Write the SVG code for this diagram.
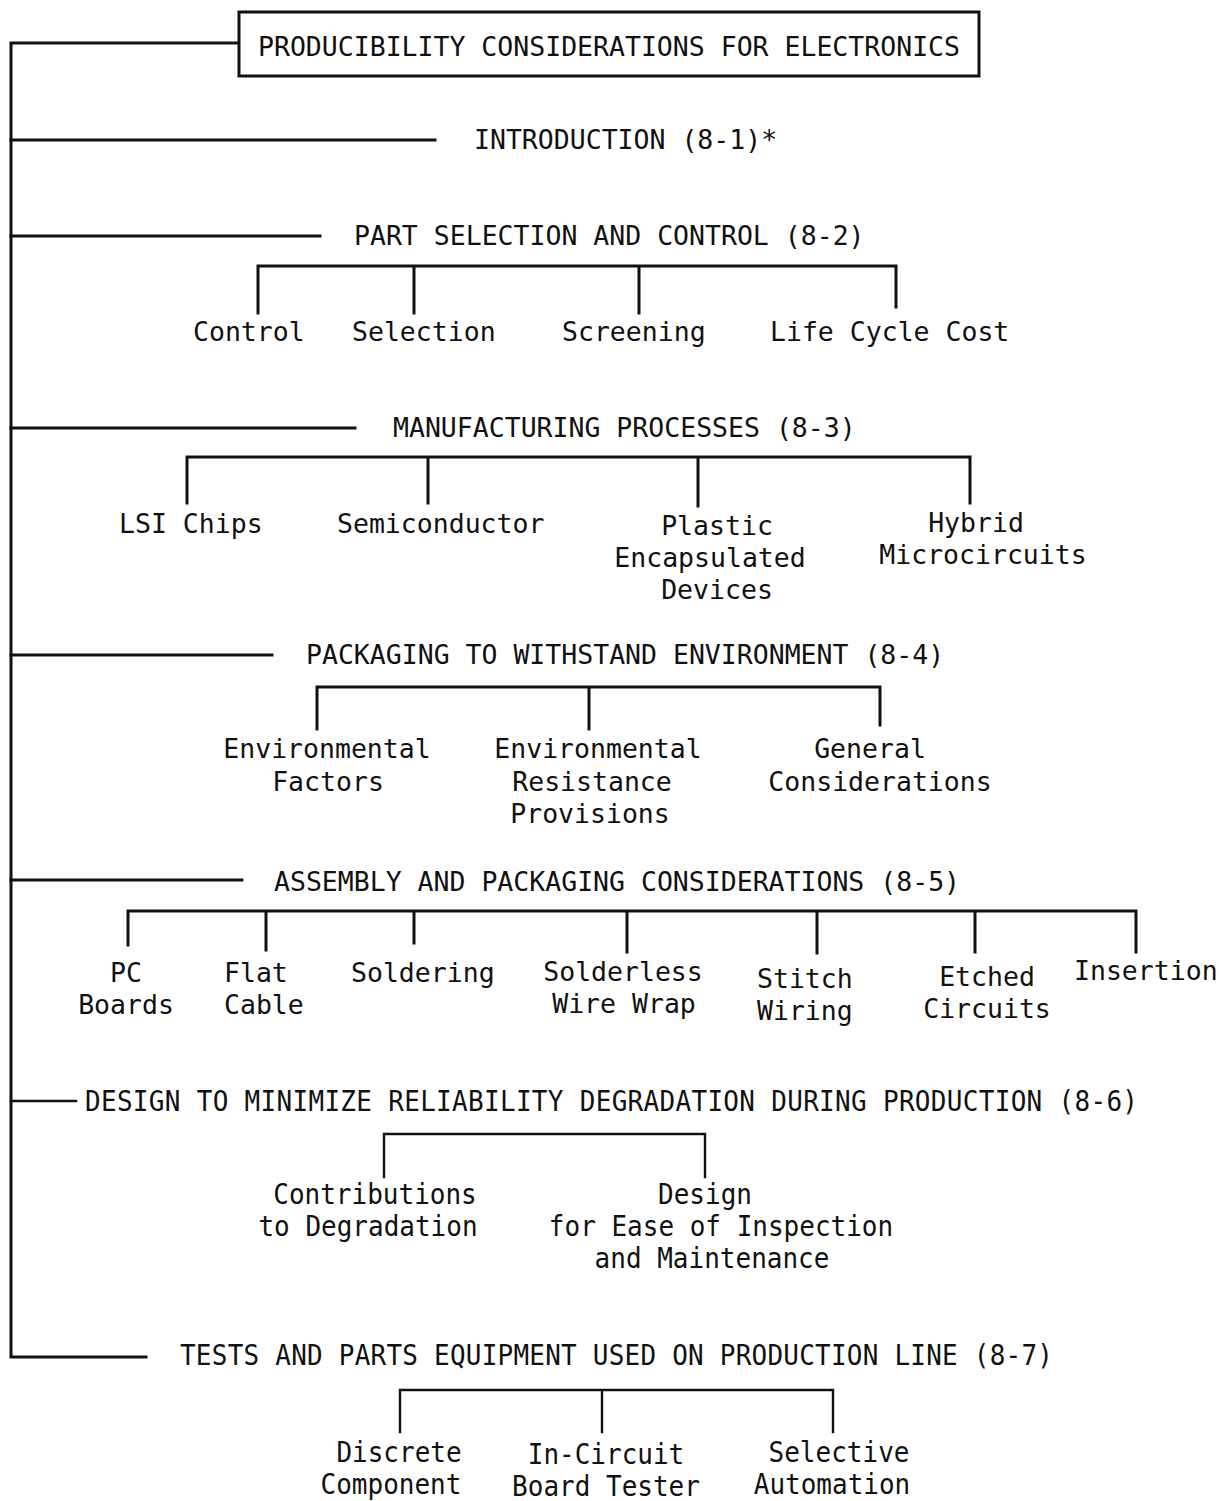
<svg xmlns="http://www.w3.org/2000/svg" width="1219" height="1501" viewBox="0 0 1219 1501">
  <style>
    text { font-family: "DejaVu Sans Mono", "Liberation Mono", monospace; font-size: 26.5px; fill: #111; }
    .c { text-anchor: middle; }
    .sm { font-size: 26px; }
    .ln { fill: none; stroke: #111; stroke-width: 3; stroke-linecap: square; }
    .thin { stroke-width: 2.4; }
    .box { fill: #fff; stroke: #111; stroke-width: 3; }
  </style>
  <rect width="1219" height="1501" fill="#fff"/>

  <!-- connectors: main spine, section branches and sub-brackets -->
  <g id="connectors">
    <path class="ln" d="M239,43 H11 V1357 H146"/>
    <path class="ln" d="M11,140 H435"/>
    <path class="ln" d="M11,236 H320"/>
    <path class="ln" d="M11,428 H355"/>
    <path class="ln" d="M11,655 H272"/>
    <path class="ln" d="M11,880 H242"/>
    <path class="ln thin" d="M11,1101 H76"/>

    <!-- 8-2 -->
    <path class="ln" d="M258,313 V266 H896 V307 M414,266 V313 M639,266 V313"/>
    <!-- 8-3 -->
    <path class="ln" d="M187,503 V457 H970 V503 M428,457 V503 M698,457 V506"/>
    <!-- 8-4 -->
    <path class="ln" d="M317,729 V687 H880 V725 M589,687 V729"/>
    <!-- 8-5 -->
    <path class="ln" d="M128,945 V911 H1136 V952 M266,911 V950 M414,911 V943 M627,911 V952 M817,911 V953 M975,911 V952"/>
    <!-- 8-6 -->
    <path class="ln thin" d="M384,1177 V1134 H705 V1177"/>
    <!-- 8-7 -->
    <path class="ln thin" d="M400,1432 V1390 H833 V1432 M602,1390 V1432"/>
  </g>

  <g id="root">
    <rect class="box" x="239" y="12" width="740" height="64"/>
    <text class="c" x="609" y="56">PRODUCIBILITY CONSIDERATIONS FOR ELECTRONICS</text>
  </g>

  <g id="s81"><text x="474" y="149">INTRODUCTION (8-1)*</text></g>

  <g id="s82"><text x="354" y="245">PART SELECTION AND CONTROL (8-2)</text></g>
  <g id="s82-control"><text x="193" y="341">Control</text></g>
  <g id="s82-selection"><text x="352" y="341">Selection</text></g>
  <g id="s82-screening"><text x="562" y="341">Screening</text></g>
  <g id="s82-lcc"><text x="770" y="341">Life Cycle Cost</text></g>

  <g id="s83"><text x="393" y="437">MANUFACTURING PROCESSES (8-3)</text></g>
  <g id="s83-lsi"><text x="119" y="533">LSI Chips</text></g>
  <g id="s83-semi"><text x="337" y="533">Semiconductor</text></g>
  <g id="s83-plastic">
    <text class="c" x="717" y="535">Plastic</text>
    <text class="c" x="710" y="567">Encapsulated</text>
    <text class="c" x="717" y="599">Devices</text>
  </g>
  <g id="s83-hybrid">
    <text class="c" x="976" y="532">Hybrid</text>
    <text class="c" x="983" y="564">Microcircuits</text>
  </g>

  <g id="s84"><text x="306" y="664">PACKAGING TO WITHSTAND ENVIRONMENT (8-4)</text></g>
  <g id="s84-factors">
    <text class="c" x="327" y="758">Environmental</text>
    <text class="c" x="328" y="791">Factors</text>
  </g>
  <g id="s84-resistance">
    <text class="c" x="598" y="758">Environmental</text>
    <text class="c" x="592" y="791">Resistance</text>
    <text class="c" x="590" y="823">Provisions</text>
  </g>
  <g id="s84-general">
    <text class="c" x="870" y="758">General</text>
    <text class="c" x="880" y="791">Considerations</text>
  </g>

  <g id="s85"><text x="274" y="891">ASSEMBLY AND PACKAGING CONSIDERATIONS (8-5)</text></g>
  <g id="s85-pc">
    <text class="c" x="126" y="982">PC</text>
    <text class="c" x="126" y="1014">Boards</text>
  </g>
  <g id="s85-flat">
    <text x="224" y="982">Flat</text>
    <text x="224" y="1014">Cable</text>
  </g>
  <g id="s85-soldering"><text x="351" y="982">Soldering</text></g>
  <g id="s85-wirewrap">
    <text class="c" x="623" y="981">Solderless</text>
    <text class="c" x="624" y="1013">Wire Wrap</text>
  </g>
  <g id="s85-stitch">
    <text x="757" y="988">Stitch</text>
    <text x="757" y="1020">Wiring</text>
  </g>
  <g id="s85-etched">
    <text class="c" x="987" y="986">Etched</text>
    <text class="c" x="987" y="1018">Circuits</text>
  </g>
  <g id="s85-insertion"><text x="1074" y="980">Insertion</text></g>

  <!-- lower sections are set in a taller face: stretch each line about its baseline -->
  <g id="s86"><text class="sm" x="85" y="1111" textLength="1053" lengthAdjust="spacing" transform="matrix(1 0 0 1.1 0 -111.1)">DESIGN TO MINIMIZE RELIABILITY DEGRADATION DURING PRODUCTION (8-6)</text></g>
  <g id="s86-contrib">
    <text class="c sm" x="375" y="1204" transform="matrix(1 0 0 1.1 0 -120.4)">Contributions</text>
    <text class="c sm" x="368" y="1236" transform="matrix(1 0 0 1.1 0 -123.6)">to Degradation</text>
  </g>
  <g id="s86-inspection">
    <text class="c sm" x="705" y="1204" transform="matrix(1 0 0 1.1 0 -120.4)">Design</text>
    <text class="c sm" x="721" y="1236" transform="matrix(1 0 0 1.1 0 -123.6)">for Ease of Inspection</text>
    <text class="c sm" x="712" y="1268" transform="matrix(1 0 0 1.1 0 -126.8)">and Maintenance</text>
  </g>

  <g id="s87"><text class="sm" x="180" y="1365" textLength="873" lengthAdjust="spacing" transform="matrix(1 0 0 1.1 0 -136.5)">TESTS AND PARTS EQUIPMENT USED ON PRODUCTION LINE (8-7)</text></g>
  <g id="s87-discrete">
    <text class="c sm" x="399" y="1462" transform="matrix(1 0 0 1.1 0 -146.2)">Discrete</text>
    <text class="c sm" x="391" y="1494" transform="matrix(1 0 0 1.1 0 -149.4)">Component</text>
  </g>
  <g id="s87-incircuit">
    <text class="c sm" x="606" y="1464" transform="matrix(1 0 0 1.1 0 -146.4)">In-Circuit</text>
    <text class="c sm" x="606" y="1496" transform="matrix(1 0 0 1.1 0 -149.6)">Board Tester</text>
  </g>
  <g id="s87-selective">
    <text class="c sm" x="839" y="1462" transform="matrix(1 0 0 1.1 0 -146.2)">Selective</text>
    <text class="c sm" x="832" y="1494" transform="matrix(1 0 0 1.1 0 -149.4)">Automation</text>
  </g>
</svg>
